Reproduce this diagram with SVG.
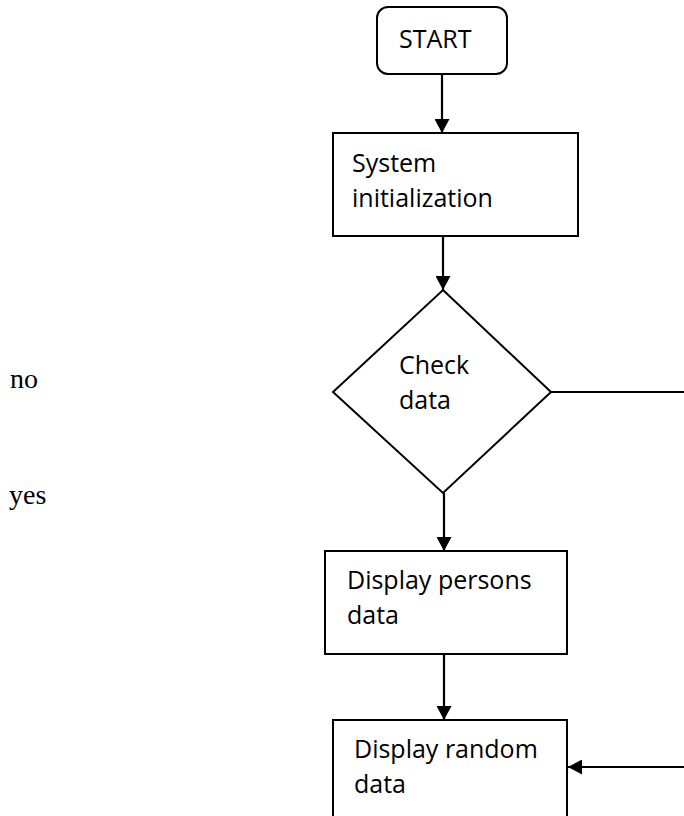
<svg xmlns="http://www.w3.org/2000/svg" width="684" height="816" viewBox="0 0 684 816">
<style>
.shape{fill:#fff;stroke:#000;stroke-width:2}
.lbl{font-family:"Open Sans","Liberation Sans",sans-serif;font-size:25px;fill:#000}
.side{font-family:"Liberation Serif","DejaVu Serif",serif;font-size:28px;fill:#000}
.conn{fill:none;stroke:#000;stroke-width:2.2}
</style>
<defs>
<marker id="ah" markerUnits="userSpaceOnUse" markerWidth="14" markerHeight="15" viewBox="0 0 14 15" refX="14" refY="7.5" orient="auto">
<path d="M0,0 L14,7.5 L0,15 Z" fill="#000"/>
</marker>
</defs>
<g id="connectors">
<line class="conn" x1="442" y1="72" x2="442" y2="133" marker-end="url(#ah)"/>
<line class="conn" x1="443" y1="236" x2="443" y2="290" marker-end="url(#ah)"/>
<line class="conn" x1="444" y1="493" x2="444" y2="551" marker-end="url(#ah)"/>
<line class="conn" x1="444" y1="652" x2="444" y2="720" marker-end="url(#ah)"/>
<line class="conn" x1="551" y1="392" x2="684" y2="392"/>
<line class="conn" x1="684" y1="767" x2="568" y2="767" marker-end="url(#ah)"/>
</g>
<g id="start">
<rect class="shape" x="377" y="7" width="130" height="67" rx="11"/>
<text class="lbl" x="399" y="48">START</text>
</g>
<g id="init">
<rect class="shape" x="333" y="133" width="245" height="103"/>
<text class="lbl" x="352" y="172">System</text>
<text class="lbl" x="352" y="207">initialization</text>
</g>
<g id="check">
<polygon class="shape" points="443,290 551,392 443,493 333,392"/>
<text class="lbl" x="399" y="374">Check</text>
<text class="lbl" x="399" y="409">data</text>
</g>
<g id="persons">
<rect class="shape" x="325" y="551" width="242" height="103"/>
<text class="lbl" x="347" y="589">Display persons</text>
<text class="lbl" x="347" y="624">data</text>
</g>
<g id="random">
<rect class="shape" x="333" y="720" width="234" height="110"/>
<text class="lbl" x="354" y="758">Display random</text>
<text class="lbl" x="354" y="793">data</text>
</g>
<g id="labels">
<text class="side" x="10" y="388">no</text>
<text class="side" x="9" y="504">yes</text>
</g>
</svg>
